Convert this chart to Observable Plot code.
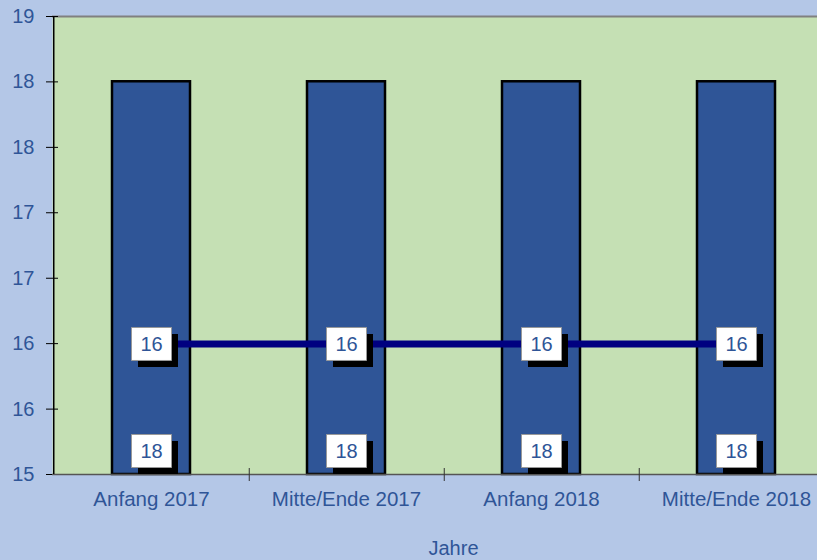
<!DOCTYPE html>
<html>
<head>
<meta charset="utf-8">
<script src="https://cdn.jsdelivr.net/npm/d3@7"></script>
<script src="https://cdn.jsdelivr.net/npm/@observablehq/plot@0.6"></script>
<style>
  html, body { margin: 0; padding: 0; background: #b4c7e7; }
  #chart svg { display: block; }
</style>
</head>
<body>
<div id="chart"></div>
<script>
const categories = ["Anfang 2017", "Mitte/Ende 2017", "Anfang 2018", "Mitte/Ende 2018"];
const barValues = [18.43, 18.43, 18.43, 18.43];
const lineValues = [16.14, 16.14, 16.14, 16.14];
const yTicks = [15, 15.571, 16.143, 16.714, 17.286, 17.857, 18.429, 19];
const yDomain = [15, 19];
const axisTitle = "Jahre";

const data = categories.map((c, i) => ({cat: c, bar: barValues[i], line: lineValues[i]}));
const fmt = d3.format(".0f");
const textColor = "#2f5597";
const font = "Liberation Sans, Arial, sans-serif";
const fs = 20;
const step = (834 - 52) / 4;

const boxSymbol = {draw(ctx) { ctx.moveTo(-20, -16.5); ctx.lineTo(20, -16.5); ctx.lineTo(20, 16.5); ctx.lineTo(-20, 16.5); ctx.closePath(); }};

const plot = Plot.plot({
  width: 817,
  height: 560,
  marginLeft: 52,
  marginRight: -17,
  marginTop: 16,
  marginBottom: 86,
  style: {background: "#b4c7e7", fontFamily: font, fontSize: fs + "px", color: textColor, overflow: "hidden"},
  x: {domain: categories, paddingInner: 0.6, paddingOuter: 0.3, label: null},
  y: {domain: yDomain, ticks: yTicks, tickFormat: fmt, label: null},
  marks: [
    Plot.frame({fill: "#c5e0b4", stroke: "none"}),
    Plot.ruleY([19], {stroke: "#808080", strokeWidth: 2}),
    Plot.axisY({ticks: yTicks, tickSize: 12, dx: 6, text: null, stroke: "black"}),
    Plot.axisY({ticks: yTicks, tickSize: 0, tickPadding: 18, tickFormat: fmt, fill: textColor, fontSize: fs, fontFamily: font, label: null}),
    Plot.barY(data, {x: "cat", y1: 15, y2: "bar", fill: "#2f5597", stroke: "black", strokeWidth: 2.5}),
    Plot.ruleY([15], {stroke: "#555", strokeWidth: 1.5}),
    Plot.ruleX(categories.slice(0, 1), {y1: 15, y2: 19, dx: -step / 2, stroke: "black", strokeWidth: 1.5}),
    Plot.ruleX(categories.slice(0, 3), {y1: 15, y2: 15, dx: step / 2, insetTop: -6, insetBottom: -7, stroke: "#333", strokeWidth: 1}),
    Plot.axisX({tickSize: 0, tickPadding: 17, fill: textColor, fontSize: 20.5, fontFamily: font, label: null}),
    Plot.lineY(data, {x: "cat", y: "line", stroke: "#000080", strokeWidth: 7}),
    Plot.dot(data, {x: "cat", y: "line", symbol: boxSymbol, fill: "black", stroke: "none", dx: 6.5, dy: 6.5}),
    Plot.dot(data, {x: "cat", y: "line", symbol: boxSymbol, fill: "white", stroke: "#999", strokeWidth: 1}),
    Plot.text(data, {x: "cat", y: "line", dy: 1, text: d => fmt(d.line), fill: textColor, fontSize: fs, fontFamily: font}),
    Plot.dot(data, {x: "cat", y: () => 15, symbol: boxSymbol, fill: "black", stroke: "none", dx: 6.5, dy: -23.5 + 6.5}),
    Plot.dot(data, {x: "cat", y: () => 15, symbol: boxSymbol, fill: "white", stroke: "#999", strokeWidth: 1, dy: -23.5}),
    Plot.text(data, {x: "cat", y: () => 15, dy: -22.5, text: d => fmt(d.bar), fill: textColor, fontSize: fs, fontFamily: font}),
    Plot.text([axisTitle], {frameAnchor: "bottom", dy: 80, dx: 10, text: d => d, fill: textColor, fontSize: fs, fontFamily: font})
  ]
});
document.getElementById("chart").appendChild(plot);
</script>
</body>
</html>
